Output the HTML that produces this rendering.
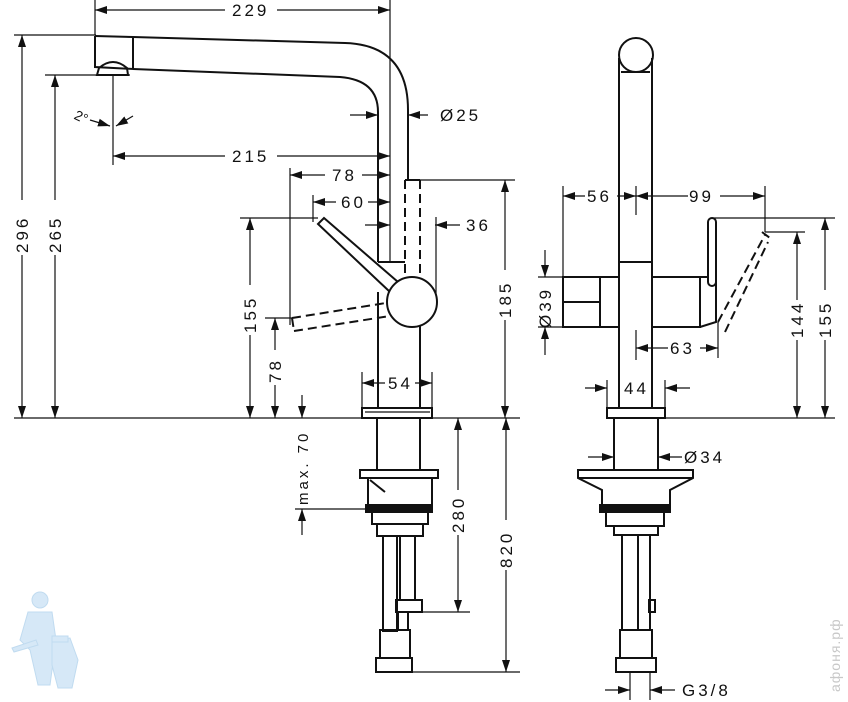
<!DOCTYPE html>
<html><head><meta charset="utf-8"><style>
html,body{margin:0;padding:0;background:#fff;}
svg{display:block}
text{font-family:"Liberation Sans",sans-serif;font-size:17px;letter-spacing:3px;fill:#111}
</style></head><body>
<svg width="848" height="702" viewBox="0 0 848 702" xmlns="http://www.w3.org/2000/svg">
<defs>
<marker id="a" viewBox="0 0 12 8" refX="12" refY="4" markerWidth="12" markerHeight="8" markerUnits="userSpaceOnUse" orient="auto-start-reverse"><path d="M0,0 L12,4 L0,8 z" fill="#111"/></marker>
</defs>

<!-- watermark -->
<g fill="#d6e8f7" stroke="#c0dbf0" stroke-width="1">
<circle cx="40" cy="600" r="8"/>
<path d="M28,612 L52,612 L56,640 L50,685 L38,685 L30,650 L20,640 Z"/>
<path d="M52,640 L70,638 L78,660 L72,688 L58,688 L52,665 Z"/>
<rect x="52" y="636" width="16" height="6"/>
<path d="M12,648 L36,640 L38,645 L14,652 Z"/>
</g>
<text x="0" y="0" transform="translate(840,692) rotate(-90)" style="font-size:14px;fill:#c8c8c8;letter-spacing:1px">афоня.рф</text>

<g stroke="#111" fill="none" stroke-width="1.2">
<line x1="14" y1="418" x2="520" y2="418"/>
<line x1="14" y1="35" x2="96" y2="35"/>
<line x1="45" y1="75" x2="130" y2="75"/>
<line x1="95" y1="0" x2="95" y2="35"/>
<line x1="390" y1="0" x2="390" y2="262"/>
<line x1="113" y1="75" x2="113" y2="165"/>
<line x1="22" y1="35" x2="22" y2="200" marker-start="url(#a)"/>
<line x1="22" y1="255" x2="22" y2="418" marker-end="url(#a)"/>
<line x1="55" y1="75" x2="55" y2="200" marker-start="url(#a)"/>
<line x1="55" y1="255" x2="55" y2="418" marker-end="url(#a)"/>
<line x1="95" y1="10" x2="225" y2="10" marker-start="url(#a)"/>
<line x1="277" y1="10" x2="390" y2="10" marker-end="url(#a)"/>
<line x1="113" y1="156" x2="225" y2="156" marker-start="url(#a)"/>
<line x1="277" y1="156" x2="390" y2="156" marker-end="url(#a)"/>
<line x1="90" y1="120" x2="110" y2="126" marker-end="url(#a)"/>
<line x1="133" y1="116" x2="116" y2="126" marker-end="url(#a)"/>
<path d="M95,36 L133,37 L345,43 Q408,45 408,110 L408,180" stroke-width="2"/>
<path d="M133,69 L340,77 Q378,80 378,112 L378,262" stroke-width="2"/>
<path d="M95,36 L95,67 L133,69 L133,37" stroke-width="2"/>
<path d="M97,75 L128,75 L127,68 Q113,56 99,68 Z" stroke-width="2"/>
<line x1="350" y1="115" x2="378" y2="115" marker-end="url(#a)"/>
<line x1="428" y1="115" x2="408" y2="115" marker-end="url(#a)"/>
<path d="M405,180 L420,180" stroke-width="2"/>
<path d="M405,180 L405,275 M420,180 L420,275" stroke-width="2" stroke-dasharray="9,5"/>
<line x1="420" y1="180" x2="515" y2="180"/>
<line x1="505" y1="180" x2="505" y2="270" marker-start="url(#a)"/>
<line x1="505" y1="320" x2="505" y2="418" marker-end="url(#a)"/>
<line x1="290" y1="168" x2="290" y2="325"/>
<line x1="290" y1="175" x2="325" y2="175" marker-start="url(#a)"/>
<line x1="362" y1="175" x2="390" y2="175" marker-end="url(#a)"/>
<line x1="313" y1="195" x2="313" y2="222"/>
<line x1="313" y1="202" x2="336" y2="202" marker-start="url(#a)"/>
<line x1="368" y1="202" x2="390" y2="202" marker-end="url(#a)"/>
<line x1="365" y1="225" x2="390" y2="225" marker-end="url(#a)"/>
<line x1="460" y1="225" x2="435" y2="225" marker-end="url(#a)"/>
<line x1="436" y1="217" x2="436" y2="300"/>
<path d="M318,224 L324,218 L398,282 L390,292 Z" stroke-width="2" fill="#fff"/>
<line x1="378" y1="262" x2="405" y2="262" stroke-width="2"/>
<path d="M292,318 L392,302 M294,331 L390,316 M292,318 L294,331" stroke-width="2" stroke-dasharray="9,5"/>
<circle cx="412" cy="302" r="25" stroke-width="2" fill="#fff"/>
<line x1="378" y1="292" x2="378" y2="408" stroke-width="2"/>
<line x1="420" y1="326" x2="420" y2="408" stroke-width="2"/>
<rect x="362" y="408" width="70" height="10" stroke-width="2"/>
<line x1="365" y1="412" x2="430" y2="412"/>
<line x1="240" y1="218" x2="318" y2="218"/>
<line x1="265" y1="318" x2="292" y2="318"/>
<line x1="250" y1="218" x2="250" y2="285" marker-start="url(#a)"/>
<line x1="250" y1="335" x2="250" y2="418" marker-end="url(#a)"/>
<line x1="275" y1="318" x2="275" y2="350" marker-start="url(#a)"/>
<line x1="275" y1="385" x2="275" y2="418" marker-end="url(#a)"/>
<line x1="362" y1="372" x2="362" y2="408"/>
<line x1="432" y1="372" x2="432" y2="408"/>
<line x1="362" y1="383" x2="385" y2="383" marker-start="url(#a)"/>
<line x1="415" y1="383" x2="432" y2="383" marker-end="url(#a)"/>
<line x1="302" y1="395" x2="302" y2="418" marker-end="url(#a)"/>
<line x1="295" y1="509" x2="370" y2="509"/>
<line x1="302" y1="535" x2="302" y2="509" marker-end="url(#a)"/>
<g stroke-width="2">
<rect x="377" y="418" width="43" height="52"/>
<rect x="360" y="470" width="78" height="8"/>
<rect x="368" y="478" width="64" height="27"/>
<line x1="370" y1="480" x2="385" y2="492"/>
<rect x="366" y="505" width="66" height="7" fill="#111"/>
<rect x="372" y="512" width="56" height="12"/>
<rect x="377" y="524" width="46" height="12"/>
<rect x="383" y="536" width="14" height="95"/>
<rect x="400" y="536" width="15" height="64"/>
<rect x="396" y="600" width="26" height="12"/>
<rect x="398" y="612" width="10" height="18"/>
<rect x="380" y="630" width="30" height="28"/>
<rect x="376" y="658" width="36" height="14"/>
</g>
<line x1="420" y1="612" x2="470" y2="612"/>
<line x1="410" y1="672" x2="520" y2="672"/>
<line x1="458" y1="418" x2="458" y2="490" marker-start="url(#a)"/>
<line x1="458" y1="535" x2="458" y2="612" marker-end="url(#a)"/>
<line x1="506" y1="418" x2="506" y2="520" marker-start="url(#a)"/>
<line x1="506" y1="570" x2="506" y2="672" marker-end="url(#a)"/>

<g stroke-width="2">
<circle cx="636" cy="55" r="17" fill="#fff"/>
<line x1="619" y1="58" x2="619" y2="408"/>
<line x1="652" y1="58" x2="652" y2="408"/>
<line x1="621" y1="72" x2="650" y2="72"/>
<line x1="619" y1="262" x2="652" y2="262"/>
<rect x="563" y="277" width="37" height="50" fill="#fff"/>
<line x1="563" y1="302" x2="600" y2="302"/>
<line x1="600" y1="277" x2="619" y2="277"/>
<line x1="600" y1="327" x2="619" y2="327"/>
<path d="M652,277 L700,277 L700,327 L652,327"/>
<path d="M700,277 L716,277 L716,322 L700,327"/>
<rect x="708" y="218" width="8" height="68" rx="4" fill="#fff"/>
<rect x="607" y="408" width="58" height="10"/>
<rect x="614" y="418" width="44" height="52"/>
<path d="M578,470 L693,470 L693,478 L670,490 L670,505 L602,505 L602,490 L578,478 Z"/>
<line x1="578" y1="478" x2="693" y2="478"/>
<rect x="600" y="505" width="70" height="7" fill="#111"/>
<rect x="606" y="512" width="58" height="14"/>
<rect x="614" y="526" width="44" height="9"/>
<rect x="622" y="535" width="16" height="95"/>
<rect x="638" y="535" width="12" height="95"/>
<rect x="649" y="600" width="6" height="12"/>
<rect x="620" y="630" width="32" height="28"/>
<rect x="616" y="658" width="40" height="14"/>
</g>
<path d="M718,322 L765,235 M725,332 L768,242 M762,232 L770,238" stroke-width="2" stroke-dasharray="9,5"/>
<line x1="545" y1="250" x2="545" y2="277" marker-end="url(#a)"/>
<line x1="545" y1="355" x2="545" y2="327" marker-end="url(#a)"/>
<line x1="538" y1="277" x2="563" y2="277"/>
<line x1="538" y1="327" x2="563" y2="327"/>
<line x1="563" y1="186" x2="563" y2="277"/>
<line x1="636" y1="186" x2="636" y2="215"/>
<line x1="765" y1="186" x2="765" y2="232"/>
<line x1="563" y1="196" x2="585" y2="196" marker-start="url(#a)"/>
<line x1="617" y1="196" x2="636" y2="196" marker-end="url(#a)"/>
<line x1="636" y1="196" x2="688" y2="196" marker-start="url(#a)"/>
<line x1="720" y1="196" x2="765" y2="196" marker-end="url(#a)"/>
<line x1="712" y1="218" x2="835" y2="218"/>
<line x1="765" y1="232" x2="805" y2="232"/>
<line x1="665" y1="418" x2="835" y2="418"/>
<line x1="825" y1="218" x2="825" y2="290" marker-start="url(#a)"/>
<line x1="825" y1="340" x2="825" y2="418" marker-end="url(#a)"/>
<line x1="797" y1="232" x2="797" y2="300" marker-start="url(#a)"/>
<line x1="797" y1="340" x2="797" y2="418" marker-end="url(#a)"/>
<line x1="636" y1="330" x2="636" y2="360"/>
<line x1="718" y1="322" x2="718" y2="358"/>
<line x1="636" y1="348" x2="668" y2="348" marker-start="url(#a)"/>
<line x1="700" y1="348" x2="718" y2="348" marker-end="url(#a)"/>
<line x1="607" y1="380" x2="607" y2="408"/>
<line x1="665" y1="380" x2="665" y2="408"/>
<line x1="585" y1="388" x2="607" y2="388" marker-end="url(#a)"/>
<line x1="690" y1="388" x2="665" y2="388" marker-end="url(#a)"/>
<line x1="588" y1="457" x2="614" y2="457" marker-end="url(#a)"/>
<line x1="682" y1="457" x2="658" y2="457" marker-end="url(#a)"/>
<line x1="630" y1="672" x2="630" y2="700"/>
<line x1="650" y1="672" x2="650" y2="700"/>
<line x1="605" y1="690" x2="630" y2="690" marker-end="url(#a)"/>
<line x1="675" y1="690" x2="650" y2="690" marker-end="url(#a)"/>
</g>

<g>
<text x="232" y="16">229</text>
<text x="232" y="162">215</text>
<text x="332" y="181">78</text>
<text x="341" y="208">60</text>
<text x="466" y="231">36</text>
<text x="440" y="121">Ø25</text>
<text x="75" y="122" transform="rotate(25 82 116)" style="font-size:14px;letter-spacing:0">2°</text>
<text transform="translate(28,253) rotate(-90)">296</text>
<text transform="translate(61,253) rotate(-90)">265</text>
<text transform="translate(256,333) rotate(-90)">155</text>
<text transform="translate(281,383) rotate(-90)">78</text>
<text transform="translate(511,318) rotate(-90)">185</text>
<text x="388" y="389">54</text>
<text transform="translate(308,505) rotate(-90)" style="font-size:15px">max. 70</text>
<text transform="translate(464,533) rotate(-90)">280</text>
<text transform="translate(512,568) rotate(-90)">820</text>
<text x="587" y="202">56</text>
<text x="689" y="202">99</text>
<text transform="translate(551,328) rotate(-90)">Ø39</text>
<text x="670" y="354">63</text>
<text x="624" y="394">44</text>
<text transform="translate(831,338) rotate(-90)">155</text>
<text transform="translate(803,338) rotate(-90)">144</text>
<text x="684" y="463">Ø34</text>
<text x="682" y="696">G3/8</text>
</g>
</svg>
</body></html>
